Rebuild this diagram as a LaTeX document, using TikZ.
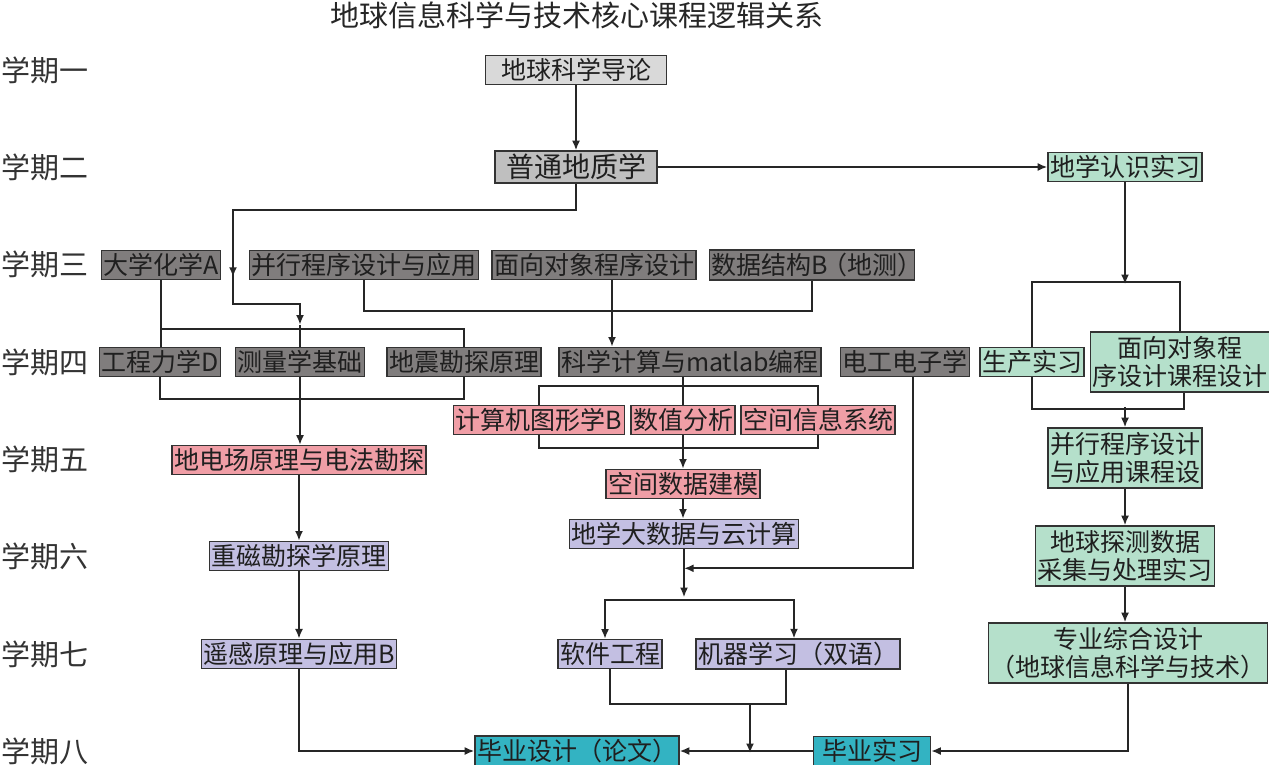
\documentclass[tikz,border=0pt]{standalone}
\usepackage{fontspec}
\setmainfont{Noto Sans CJK SC}
\usepackage{xcolor}
\usepackage{tikz}
\usetikzlibrary{arrows.meta,calc}

\definecolor{introgray}{HTML}{D9D9D9}
\definecolor{geogray}{HTML}{BFBFBF}
\definecolor{coregray}{HTML}{807D7D}
\definecolor{corepink}{HTML}{F09EA6}
\definecolor{corelilac}{HTML}{C3BFE2}
\definecolor{coremint}{HTML}{B5E0CB}
\definecolor{coreteal}{HTML}{33B3C2}

\begin{document}
\begin{tikzpicture}[
    x=0.5pt,
    y=-0.5pt,
    course/.style={
        draw=black!80,
        line width=0.65pt,
        text=black!88,
        inner xsep=1pt,
        inner ysep=1.5pt,
        minimum height=14pt,
        align=center,
        font=\fontsize{12.5}{14}\selectfont
    },
    flow/.style={
        draw=black!85,
        line width=0.9pt
    },
    flowarrow/.style={
        flow,
        -{Latex[length=1.7mm,width=1.4mm]}
    },
    termlabel/.style={
        anchor=west,
        inner sep=0pt,
        text=black!80,
        font=\fontsize{14.5}{16}\selectfont
    }
]
\useasboundingbox (0,0) rectangle (1269,765);

\node[font=\fontsize{14.5}{16}\selectfont,text=black!85] (title) at (577,15)
{地球信息科学与技术核心课程逻辑关系};

% semesters
\node[termlabel] (sem1) at (1,70) {学期一};
\node[termlabel] (sem2) at (1,167) {学期二};
\node[termlabel] (sem3) at (1,264) {学期三};
\node[termlabel] (sem4) at (1,362) {学期四};
\node[termlabel] (sem5) at (1,459) {学期五};
\node[termlabel] (sem6) at (1,556) {学期六};
\node[termlabel] (sem7) at (1,654) {学期七};
\node[termlabel] (sem8) at (1,751) {学期八};

% first year
\node[course,fill=introgray,minimum width=90.5pt] (intro) at (576,70) {地球科学导论};
\node[course,fill=geogray,minimum width=81pt,minimum height=14.5pt,
    font=\fontsize{14}{16}\selectfont] (geology) at (576,167) {普通地质学};
\node[course,fill=coremint] (cognition) at (1125,167) {地学认识实习};

\draw[flowarrow] (intro) -- (geology);
\draw[flowarrow] (geology) -- (cognition);

% second year
\node[course,fill=coregray] (chem) at (161,265) {大学化学A};
\node[course,fill=coregray] (parprog) at (364,265) {并行程序设计与应用};
\node[course,fill=coregray] (oop) at (594,265) {面向对象程序设计};
\node[course,fill=coregray] (datastr) at (812,265) {数据结构B\kern-3pt（地测）\kern-5pt};

\node[course,fill=coregray] (mech) at (160,362) {工程力学D};
\node[course,fill=coregray] (survey) at (300,362) {测量学基础};
\node[course,fill=coregray] (seismic) at (464,362) {地震勘探原理};
\node[course,fill=coregray] (matlab) at (690,362) {科学计算与matlab编程};
\node[course,fill=coregray] (elec) at (905,362) {电工电子学};
\node[course,fill=coremint] (prodpr) at (1032,362) {生产实习};
\node[course,fill=coremint,minimum height=30pt] (oopdesign) at (1180,362)
{面向对象程\\序设计课程设计};

\coordinate (geoleft) at (233,210);
\draw[flowarrow] (geology.south) |- (geoleft) -- ++(0,67);
\draw[flowarrow] (geoleft) ++(0,60) |- ($(survey.north)+(0,-43)$)
    -- ($(survey.north)+(0,-22)$);
\draw[flow] ($(survey.north)+(0,-22)$) -- (survey.north);

\draw[flow] (chem.south) -- (chem.south |- mech.north);
\draw[flow] (chem.south) ++(0,49) -| (seismic.north);
\draw[flow] (mech.south) -- ++(0,22) -| (seismic.south);
\draw[flow] (parprog.south) -- ++(0,31) -| (datastr.south);
\draw[flowarrow] ([xshift=9pt]oop.south) -- ([xshift=9pt]oop.south |- matlab.north);

\draw[flowarrow] (cognition.south) -- ++(0,102);
\draw[flow] (prodpr.north) -- ++(0,-65) -| (oopdesign.north);
\draw[flow] (prodpr.south) -- ++(0,32) -| ([xshift=2pt]oopdesign.south);

% third year
\node[course,fill=corepink] (graphics) at (539,420) {计算机图形学B};
\node[course,fill=corepink] (numana) at (683,420) {数值分析};
\node[course,fill=corepink] (gis) at (818,420) {空间信息系统};
\node[course,fill=corepink] (geoelec) at (299,460) {地电场原理与电法勘探};
\node[course,fill=coremint,minimum height=30pt] (pardesign) at (1125,458)
{并行程序设计\\与应用课程设};
\node[course,fill=corepink] (spmodel) at (683,484) {空间数据建模};

\node[course,fill=corelilac] (bigdata) at (684,534) {地学大数据与云计算};
\node[course,fill=corelilac] (gravmag) at (299,556) {重磁勘探学原理};
\node[course,fill=coremint,minimum height=30pt] (detect) at (1125,556)
{地球探测数据\\采集与处理实习};

\draw[flowarrow] (survey.south) -- (survey.south |- geoelec.north);
\draw[flow] (numana.north |- matlab.south) -- (numana.north);
\draw[flow] (graphics.north) -- ++(0,-19) -| (gis.north);
\draw[flow] (graphics.south) -- ++(0,13) -| (gis.south);
\draw[flowarrow] (numana.south) -- (numana.south |- spmodel.north);
\draw[flowarrow] (spmodel.south) -- (spmodel.south |- bigdata.north);
\draw[flowarrow] (pardesign.north) ++(0,-20) -- (pardesign.north);
\draw[flowarrow] (pardesign.south) -- (pardesign.south |- detect.north);
\draw[flowarrow] (geoelec.south) -- (geoelec.south |- gravmag.north);

% fourth year
\node[course,fill=corelilac] (remote) at (299,654) {遥感原理与应用B};
\node[course,fill=corelilac] (softeng) at (610,654) {软件工程};
\node[course,fill=corelilac] (mlearn) at (798,654) {机器学习（双语）};
\node[course,fill=coremint,minimum height=30pt] (capstone) at (1128,653)
{专业综合设计\\（地球信息科学与技术）};

\node[course,fill=coreteal] (thesis) at (577,751) {毕业设计（论文）};
\node[course,fill=coreteal,minimum width=58.5pt] (intern) at (872,751) {毕业实习};

\draw[flowarrow] (gravmag) -- (remote);
\draw[flowarrow] (detect.south) -- (detect.south |- capstone.north);
\draw[flowarrow] ([xshift=4pt]elec.south) |- ($(bigdata.south)+(0,19)$);
\draw[flowarrow] (bigdata.south) -- ++(0,48);
\draw[flowarrow] (bigdata.south) ++(0,51) -| ([xshift=-2.5pt]softeng.north);
\draw[flowarrow] (bigdata.south) ++(0,51) -| ([xshift=-2pt]mlearn.north);
\draw[flow] (softeng.south) -- ++(0,35) -| ([xshift=-6pt]mlearn.south);
\draw[flowarrow] ($(softeng.south)+(140,35)$) -- ++(0,49);

\draw[flowarrow] (intern) -- (thesis);
\draw[flowarrow] (remote.south) |- (thesis.west);
\draw[flowarrow] (capstone.south) |- (intern.east);

\end{tikzpicture}
\end{document}
